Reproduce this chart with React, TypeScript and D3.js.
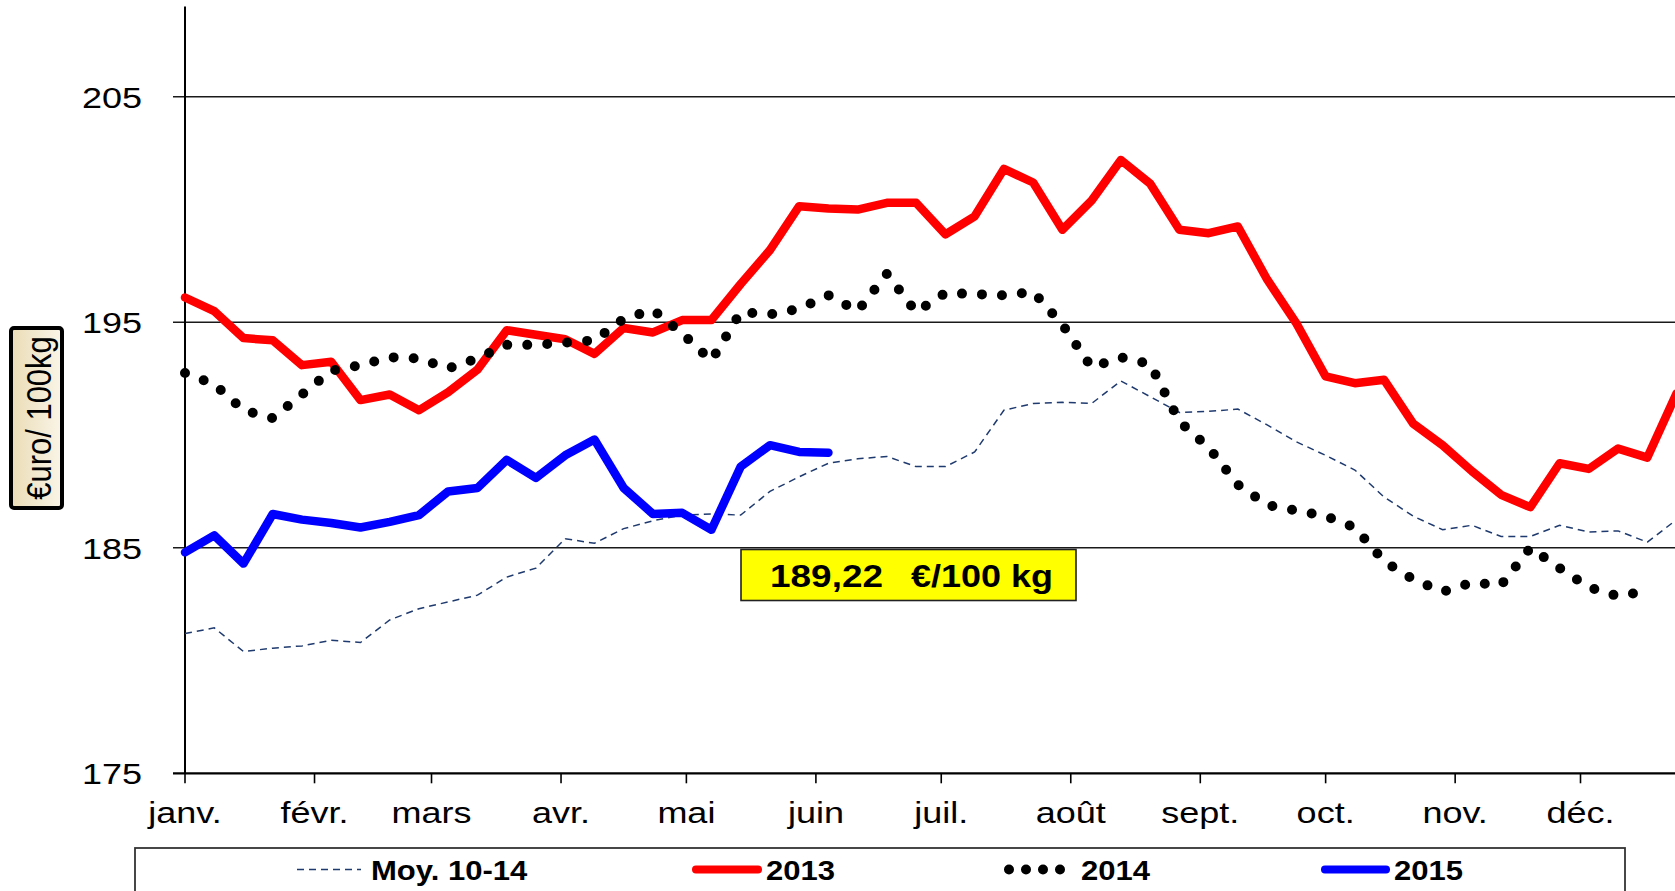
import React, { useEffect, useRef } from "react";
import * as d3 from "d3";

// weekly prices, €/100 kg, first point = 1st week of january
const moy1014 = [
  181.2, 181.45, 180.4, 180.55, 180.65, 180.9, 180.8, 181.8, 182.3, 182.6,
  182.9, 183.7, 184.1, 185.4, 185.2, 185.85, 186.2, 186.45, 186.5, 186.45,
  187.5, 188.15, 188.75, 188.95, 189.05, 188.6, 188.6, 189.25, 191.1, 191.4,
  191.45, 191.4, 192.4, 191.7, 191.0, 191.05, 191.15, 190.45, 189.7, 189.1,
  188.45, 187.25, 186.4, 185.8, 186.0, 185.5, 185.5, 186.0, 185.7, 185.75,
  185.25, 186.25,
];

const prix2013 = [
  196.1, 195.5, 194.3, 194.2, 193.1, 193.25, 191.55, 191.8, 191.1, 191.9,
  192.9, 194.65, 194.45, 194.25, 193.6, 194.75, 194.55, 195.1, 195.1, 196.7,
  198.2, 200.15, 200.05, 200.0, 200.3, 200.3, 198.9, 199.7, 201.8, 201.2,
  199.1, 200.4, 202.2, 201.15, 199.1, 198.95, 199.25, 196.9, 194.95, 192.6,
  192.3, 192.45, 190.5, 189.55, 188.4, 187.35, 186.8, 188.75, 188.5, 189.4,
  189.0, 191.85,
];

const prix2014 = [
  192.75, 192.25, 191.1, 190.75, 191.8, 192.85, 193.1, 193.45, 193.4, 192.95,
  193.4, 194.0, 194.0, 194.1, 194.2, 195.15, 195.55, 194.5, 193.3, 195.45,
  195.35, 195.6, 196.2, 195.5, 197.15, 195.45, 196.3, 196.25, 196.2, 196.35,
  194.9, 193.0, 193.45, 193.15, 190.6, 189.45, 187.8, 186.9, 186.65, 186.4,
  185.9, 184.4, 183.6, 183.05, 183.45, 183.35, 185.0, 184.1, 183.25, 182.85,
  183.1,
];

const prix2015 = [
  184.8, 185.55, 184.3, 186.5, 186.25, 186.1, 185.9, 186.15, 186.45, 187.5,
  187.65, 188.9, 188.1, 189.1, 189.8, 187.65, 186.5, 186.55, 185.8, 188.6,
  189.55, 189.25, 189.22,
];

const monthLabels = ["janv.", "févr.", "mars", "avr.", "mai", "juin", "juil.", "août", "sept.", "oct.", "nov.", "déc."];
const yTicks = [175, 185, 195, 205];
const legendLabels = ["Moy. 10-14", "2013", "2014", "2015"];
const lastValueLabel = "189,22";
const unitLabel = "€/100 kg";
const yAxisTitle = "€uro/ 100kg";

const FONT = "'Liberation Sans', Arial, Helvetica, sans-serif";

const App: React.FC = () => {
  const svgRef = useRef<SVGSVGElement>(null);
  const width = 1675;
  const height = 891;

  useEffect(() => {
    if (!svgRef.current) return;
    const svg = d3.select(svgRef.current);
    svg.selectAll("*").remove();

    const start = new Date(Date.UTC(2015, 0, 1));
    const x = d3.scaleUtc()
      .domain([start, new Date(Date.UTC(2015, 11, 1))])
      .range([185, 1580.5]);
    const y = d3.scaleLinear().domain([175, 209]).range([773.3, 6.6]);
    const weekDate = (i: number) => d3.utcDay.offset(start, 7 * i);

    const text = (
      px: number, py: number, s: string,
      opts: { size: number; weight?: string; anchor?: string; sx?: number }
    ) =>
      svg.append("text")
        .attr("transform", `translate(${px},${py}) scale(${opts.sx ?? 1.2},1)`)
        .attr("text-anchor", opts.anchor ?? "start")
        .style("font-family", FONT)
        .style("font-size", `${opts.size}px`)
        .style("font-weight", opts.weight ?? "normal")
        .attr("fill", "#000")
        .text(s);

    svg.append("rect").attr("width", width).attr("height", height).attr("fill", "#fff");

    // Grid lines
    yTicks.filter(v => v > 175).forEach(v => {
      svg.append("line")
        .attr("x1", 173).attr("x2", width)
        .attr("y1", y(v)).attr("y2", y(v))
        .attr("stroke", "#1a1a1a").attr("stroke-width", 1.4);
    });

    // Axes
    svg.append("line")
      .attr("x1", 173).attr("x2", width)
      .attr("y1", y(175)).attr("y2", y(175))
      .attr("stroke", "#000").attr("stroke-width", 2.2);
    svg.append("line")
      .attr("x1", x(start)).attr("x2", x(start))
      .attr("y1", y(209)).attr("y2", y(175))
      .attr("stroke", "#000").attr("stroke-width", 2);

    yTicks.forEach(v => {
      text(142, y(v) + 11, String(v), { size: 30, anchor: "end" });
    });

    const months = d3.utcMonth.range(start, new Date(Date.UTC(2016, 0, 1)));
    months.forEach((m, i) => {
      svg.append("line")
        .attr("x1", x(m)).attr("x2", x(m))
        .attr("y1", y(175)).attr("y2", y(175) + 10)
        .attr("stroke", "#000").attr("stroke-width", 1.6);
      text(x(m), 823, monthLabels[i], { size: 30, anchor: "middle" });
    });

    // Series
    const line = d3.line<number>()
      .x((_, i) => x(weekDate(i)))
      .y(d => y(d));

    svg.append("path")
      .attr("d", line(moy1014))
      .attr("fill", "none")
      .attr("stroke", "#1f3a6e")
      .attr("stroke-width", 1.5)
      .attr("stroke-dasharray", "7,5");

    svg.append("path")
      .attr("d", line(prix2013))
      .attr("fill", "none")
      .attr("stroke", "#ff0000")
      .attr("stroke-width", 8.5)
      .attr("stroke-linejoin", "round")
      .attr("stroke-linecap", "round");

    svg.append("path")
      .attr("d", line(prix2014))
      .attr("fill", "none")
      .attr("stroke", "#000")
      .attr("stroke-width", 10)
      .attr("stroke-linecap", "round")
      .attr("stroke-dasharray", "0,20");

    svg.append("path")
      .attr("d", line(prix2015))
      .attr("fill", "none")
      .attr("stroke", "#0000ff")
      .attr("stroke-width", 8.5)
      .attr("stroke-linejoin", "round")
      .attr("stroke-linecap", "round");

    // Last value box
    svg.append("rect")
      .attr("x", 741).attr("y", 549.5)
      .attr("width", 335).attr("height", 51)
      .attr("fill", "#ffff00")
      .attr("stroke", "#222").attr("stroke-width", 1.6);
    svg.append("text")
      .attr("x", 770).attr("y", 587)
      .attr("textLength", 113).attr("lengthAdjust", "spacingAndGlyphs")
      .style("font-family", FONT).style("font-size", "32px").style("font-weight", "bold")
      .text(lastValueLabel);
    svg.append("text")
      .attr("x", 911).attr("y", 587)
      .attr("textLength", 142).attr("lengthAdjust", "spacingAndGlyphs")
      .style("font-family", FONT).style("font-size", "32px").style("font-weight", "bold")
      .text(unitLabel);

    // Y axis title box
    const defs = svg.append("defs");
    const grad = defs.append("linearGradient").attr("id", "titleFill")
      .attr("x1", "0").attr("x2", "1").attr("y1", "0").attr("y2", "0");
    grad.append("stop").attr("offset", "0").attr("stop-color", "#eadcb6");
    grad.append("stop").attr("offset", "1").attr("stop-color", "#faf5e8");
    svg.append("rect")
      .attr("x", 11).attr("y", 328)
      .attr("width", 51).attr("height", 180)
      .attr("rx", 3)
      .attr("fill", "url(#titleFill)")
      .attr("stroke", "#000").attr("stroke-width", 4);
    svg.append("text")
      .attr("transform", "translate(51,418) rotate(-90) scale(1,1.15)")
      .attr("text-anchor", "middle")
      .style("font-family", FONT).style("font-size", "31px")
      .text(yAxisTitle);

    // Legend
    svg.append("rect")
      .attr("x", 135).attr("y", 848)
      .attr("width", 1490).attr("height", 70)
      .attr("fill", "#fff")
      .attr("stroke", "#333").attr("stroke-width", 1.8);

    const ly = 869.5;
    svg.append("line")
      .attr("x1", 297).attr("x2", 361).attr("y1", ly).attr("y2", ly)
      .attr("stroke", "#1f3a6e").attr("stroke-width", 1.5).attr("stroke-dasharray", "7,5");
    svg.append("line")
      .attr("x1", 696).attr("x2", 758).attr("y1", ly).attr("y2", ly)
      .attr("stroke", "#ff0000").attr("stroke-width", 8).attr("stroke-linecap", "round");
    svg.append("line")
      .attr("x1", 1009).attr("x2", 1061).attr("y1", ly).attr("y2", ly)
      .attr("stroke", "#000").attr("stroke-width", 10)
      .attr("stroke-linecap", "round").attr("stroke-dasharray", "0,17");
    svg.append("line")
      .attr("x1", 1325).attr("x2", 1386).attr("y1", ly).attr("y2", ly)
      .attr("stroke", "#0000ff").attr("stroke-width", 8).attr("stroke-linecap", "round");

    const legendX = [371, 766, 1081, 1394];
    legendLabels.forEach((l, i) => {
      text(legendX[i], 880, l, { size: 27, weight: "bold", sx: 1.15 });
    });
  }, []);

  return (
    <div style={{ position: "absolute", left: 0, top: 0, width, height, overflow: "hidden", background: "#fff" }}>
      <svg ref={svgRef} width={width} height={height} style={{ display: "block" }} />
    </div>
  );
};

export default App;
